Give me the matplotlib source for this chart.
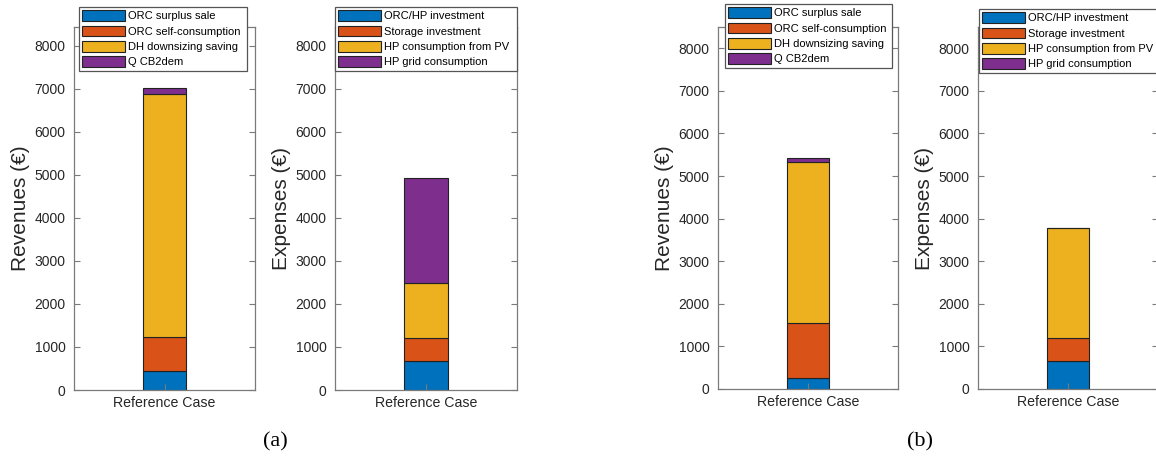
import matplotlib
matplotlib.use("Agg")
import matplotlib.pyplot as plt
import numpy as np

plt.rcParams['font.family'] = ['Liberation Sans', 'DejaVu Sans']

category = ["Reference Case"]

rev_labels = ["ORC surplus sale", "ORC self-consumption", "DH downsizing saving", "Q CB2dem"]
exp_labels = ["ORC/HP investment", "Storage investment", "HP consumption from PV", "HP grid consumption"]

rev_a = [450, 775, 5650, 150]
exp_a = [670, 530, 1295, 2425]
rev_b = [268, 1293, 3772, 87]
exp_b = [669, 535, 2580, 0]

colors = ["#0072BD", "#D95319", "#EDB120", "#7E2F8E"]

W, H = 1156, 457
fig = plt.figure(figsize=(W / 100, H / 100), dpi=100)

spine_col = "#7a7a7a"

def px_axes(l, r, t, b):
    return [l / W, 1 - b / H, (r - l) / W, (b - t) / H]

panels = [
    (px_axes(74, 255, 27, 390), rev_a, rev_labels, "Revenues (€)", (79, 247, 7, 71), 8440),
    (px_axes(335, 517, 27, 390), exp_a, exp_labels, "Expenses (€)", (335, 517, 7, 71), 8440),
    (px_axes(718, 898, 27, 389), rev_b, rev_labels, "Revenues (€)", (725, 892, 4, 68), 8500),
    (px_axes(978, 1158, 27, 389), exp_b, exp_labels, "Expenses (€)", (979, 1157, 9, 73), 8500),
]

for rect, vals, labels, ylab, leg, ytop in panels:
    ax = fig.add_axes(rect)
    bottom = 0.0
    handles = []
    for v, c, lab in zip(vals, colors, labels):
        h = ax.bar([0.5], [v], bottom=bottom, width=0.237, color=c,
                   edgecolor="#222222", linewidth=0.8, label=lab)
        handles.append(h)
        bottom += v
    ax.set_xlim(0, 1)
    ax.set_ylim(0, ytop)
    ax.set_xticks([0.5])
    ax.set_xticklabels(category, fontsize=10.2, color="#262626")
    ax.set_yticks(np.arange(0, 8001, 1000))
    ax.set_yticklabels([str(t) for t in range(0, 8001, 1000)], fontsize=10, color="#262626")
    ax.tick_params(axis="both", direction="in", length=4, width=0.8, color=spine_col,
                   right=True, top=False, pad=4)
    ax.tick_params(axis="y", pad=6)
    for s in ax.spines.values():
        s.set_color(spine_col)
        s.set_linewidth(0.9)
    ax.set_ylabel(ylab, fontsize=15, color="#262626", labelpad=3)
    l0, r0, t0, b0 = leg
    lg = ax.legend(handles=handles, loc="upper left",
                   bbox_to_anchor=(l0 / W, 1 - b0 / H, (r0 - l0) / W, (b0 - t0) / H),
                   bbox_transform=fig.transFigure, mode="expand", borderaxespad=0,
                   fontsize=8.0, frameon=True, fancybox=False, framealpha=1,
                   edgecolor="#555555", handlelength=3.8, handleheight=1.1,
                   handletextpad=0.35, labelspacing=0.38, borderpad=0.3)
    lg.get_frame().set_linewidth(0.9)
    lg.set_zorder(10)

fig.text(275.5 / W, 1 - 442 / H, "(a)", fontsize=16, family="Liberation Serif",
         ha="center", va="center")
fig.text(920 / W, 1 - 442 / H, "(b)", fontsize=16, family="Liberation Serif",
         ha="center", va="center")

fig.savefig("out.png", dpi=100)
